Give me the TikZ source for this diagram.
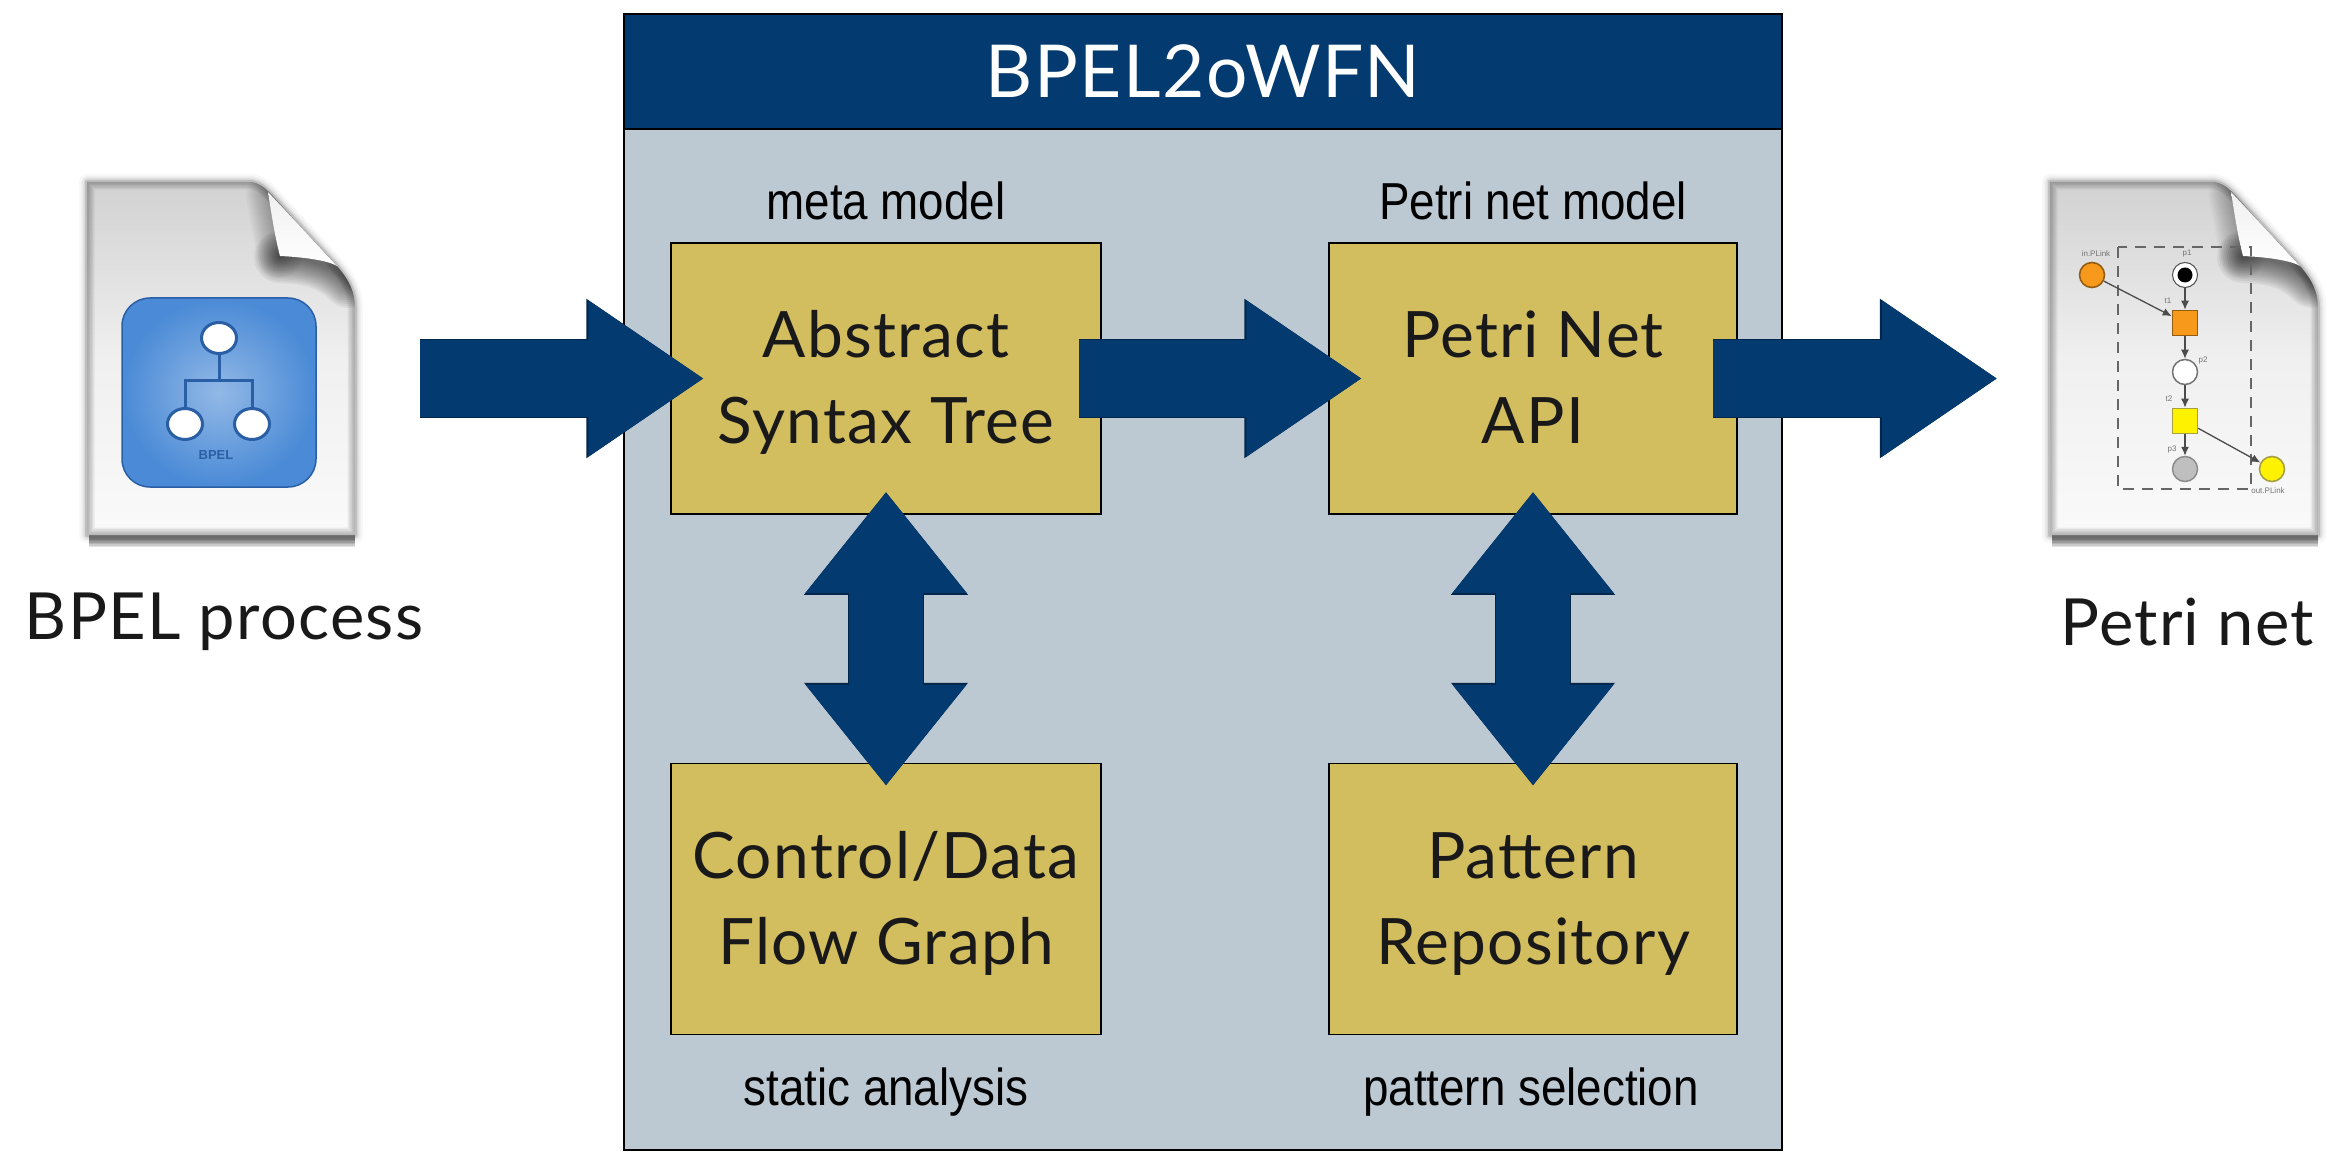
\documentclass[tikz,border=0pt]{standalone}
\usepackage{fontspec}
\usetikzlibrary{arrows.meta,calc,positioning,shapes.geometric}
\setmainfont[LetterSpace=2]{Lato}
\newfontfamily\lblfont[FakeStretch=0.88]{Liberation Sans}
\newfontfamily\tinyfont{Liberation Sans}
\definecolor{navy}{HTML}{033A70}
\definecolor{navyedge}{HTML}{02264A}
\definecolor{panel}{HTML}{BCC8D2}
\definecolor{gold}{HTML}{D2BD5F}
\definecolor{iconblue}{HTML}{4A8AD6}
\definecolor{iconline}{HTML}{2A5FA5}
\definecolor{pnorange}{HTML}{F79A1C}
\newcommand{\twolines}[2]{\rule{0pt}{64pt}#1\\#2\rule[-20pt]{0pt}{0pt}}
\newcommand{\pagepath}{(0,0) -- (165,0) .. controls (175,2) and (180,8) .. (186,14) -- (250,84) .. controls (262,98) and (268,110) .. (268,125) -- (268,353) -- (0,353) -- cycle}
\tikzset{
  x=1pt,y=-1pt,
  box/.style={draw=black,line width=1.5pt,fill=gold,minimum height=271pt,inner sep=0pt,
    align=center,font=\fontsize{64}{86}\selectfont,text=black!90},
  lbl/.style={font=\lblfont\fontsize{52}{54}\selectfont,text=black,inner sep=0pt,anchor=base},
  title/.style={font=\fontsize{65}{70}\selectfont,inner sep=0pt,text=black!90},
  blockh/.style={line width=77pt,color=navy,-{Triangle[length=116pt,width=148pt]},
    preaction={draw=navyedge,line width=79pt,-{Triangle[length=118pt,width=151pt]}}},
  blockv/.style={line width=74pt,color=navy,{Triangle[length=101pt,width=154pt]}-{Triangle[length=101pt,width=154pt]},
    preaction={draw=navyedge,line width=76pt,{Triangle[length=103pt,width=157pt]}-{Triangle[length=103pt,width=157pt]}}},
  pn/.style={draw=#1!60!black,line width=1.6pt},
  pnarc/.style={draw=black!70,line width=1.3pt,-{Latex[length=9pt,width=8pt]}},
  tinylbl/.style={font=\tinyfont\fontsize{8}{8}\selectfont,text=black!55,inner sep=0pt},
  docicon/.pic={
    % soft outer shadow
    \foreach \w/\o in {16/0.03,11/0.05,7/0.07,4/0.12}
      \draw[black,line width=\w pt,opacity=\o,line join=round] \pagepath;
    \foreach \w in {3,6,9,12,15,18}
      \draw[black,line width=\w pt,opacity=0.11] (2,356) -- (268,356);
    % page
    \shade[top color=black!18,bottom color=black!2,middle color=black!6] \pagepath;
    \begin{scope}
      \clip \pagepath;
      \foreach \w in {3,6,9,12,15}
        \draw[black,line width=\w pt,opacity=0.06] \pagepath;
      % shadow left of the fold
      \foreach \w in {4,8,...,44}
        \draw[black,line width=\w pt,opacity=0.028,line cap=round] (181,12) .. controls (185,35) and (188,55) .. (193,74);
      % shadow under the fold
      \foreach \w in {4,8,...,52}
        \draw[black,line width=\w pt,opacity=0.05,line cap=round] (193,75) .. controls (215,76) and (240,78) .. (262,100);
    \end{scope}
    % fold
    \shade[top color=black!6,bottom color=white]
      (181,10) -- (250,84) .. controls (240,78) and (215,75) .. (193,74) .. controls (188,55) and (185,35) .. (181,10) -- cycle;
  },
}
\begin{document}
\begin{tikzpicture}
\useasboundingbox (0,0) rectangle (2338,1158);
% panel
\node[draw=black,line width=1.5pt,fill=panel,minimum width=1158pt,minimum height=1136pt,inner sep=0pt] (panel) at (1203,582) {};
\node[draw=black,line width=1.5pt,fill=navy,minimum width=1158pt,minimum height=115pt,inner sep=0pt,text=white,font=\fontsize{73}{75}\selectfont] (head) at (1203,71.5) {\rule{0pt}{70pt}BPEL2oWFN\rule[-17pt]{0pt}{0pt}};
% boxes
\node[box,minimum width=430pt] (ast) at (886,378.5) {\twolines{Abstract}{Syntax Tree}};
\node[box,minimum width=408pt] (pnapi) at (1533,378.5) {\twolines{Petri Net}{API}};
\node[box,minimum width=430pt] (cfg) at (886,899) {\twolines{Control/Data}{Flow Graph}};
\node[box,minimum width=408pt] (repo) at (1533,899) {\twolines{Pattern}{Repository}};
\node[lbl] (l1) at (886,220) {meta model};
\node[lbl] (l2) at (1533,220) {Petri net model};
\node[lbl] (l3) at (886,1105) {static analysis};
\node[lbl] (l4) at (1531,1105) {pattern selection};
% icons
\pic at (87,182) {docicon};
\pic at (2050,182) {docicon};
\node[minimum width=268pt,minimum height=353pt,inner sep=0pt] (bpelfile) at (221,358.5) {};
\node[minimum width=268pt,minimum height=353pt,inner sep=0pt] (pnfile) at (2184,358.5) {};
\node[title] (t1) at (224,622) {BPEL process};
\node[title] (t2) at (2187,622) {Petri net};
% BPEL icon
\shade[inner color=iconblue!60!white,outer color=iconblue,draw=iconline,line width=1.5pt,rounded corners=28pt] (122,298) rectangle (316,487);
\coordinate (bus) at (219,380);
\node[draw=iconline,line width=3pt,fill=white,ellipse,minimum width=35pt,minimum height=31pt,inner sep=0pt] (tr) at (219,338) {};
\node[draw=iconline,line width=3pt,fill=white,ellipse,minimum width=35pt,minimum height=31pt,inner sep=0pt] (tl) at (185,424) {};
\node[draw=iconline,line width=3pt,fill=white,ellipse,minimum width=35pt,minimum height=31pt,inner sep=0pt] (tm) at (252,424) {};
\draw[iconline,line width=3pt] (tr) -- (bus);
\draw[iconline,line width=3pt] (tl) |- (bus);
\draw[iconline,line width=3pt] (tm) |- (bus);
\node[font=\tinyfont\bfseries\fontsize{13}{13}\selectfont,text=iconline,inner sep=0pt] (bt) at (216,455) {BPEL};
% petri icon
\draw[black!60,dash pattern=on 11pt off 8pt,line width=1.5pt] (2118,247) rectangle (2251,489);
\node[circle,pn=pnorange,fill=pnorange,minimum size=25pt,inner sep=0pt] (ip) at (2092,275) {};
\node[circle,draw=black!70,line width=1pt,fill=white,minimum size=25pt,inner sep=0pt] (p1) at (2185,275) {};
\fill[black] (p1) circle (7.5pt);
\node[rectangle,pn=pnorange,fill=pnorange,minimum size=25pt,inner sep=0pt] (t1a) at (2185,323) {};
\node[circle,draw=black!55,line width=1.5pt,fill=white,minimum size=25pt,inner sep=0pt] (p2) at (2185,372) {};
\node[rectangle,pn=yellow,fill=yellow,minimum size=25pt,inner sep=0pt] (t2a) at (2185,421) {};
\node[circle,draw=black!45,line width=1.5pt,fill=black!25,minimum size=25pt,inner sep=0pt] (p3) at (2185,469) {};
\node[circle,pn=yellow,fill=yellow,minimum size=25pt,inner sep=0pt] (op) at (2272,469) {};
\draw[pnarc] (p1) -- (t1a);
\draw[pnarc] (ip) -- (t1a);
\draw[pnarc] (t1a) -- (p2);
\draw[pnarc] (p2) -- (t2a);
\draw[pnarc] (t2a) -- (p3);
\draw[pnarc] (t2a) -- (op);
\node[tinylbl] at (2096,254) {in.PLink};
\node[tinylbl] at (2187,254) {p1};
\node[tinylbl] at (2168,301) {t1};
\node[tinylbl] at (2203,361) {p2};
\node[tinylbl] at (2169,399) {t2};
\node[tinylbl] at (2172,450) {p3};
\node[tinylbl] at (2268,491) {out.PLink};
% block arrows
\draw[blockh,shorten <=65pt,shorten >=-34pt] (bpelfile.east |- ast.west) -- (ast.west);
\draw[blockh,shorten <=-23pt,shorten >=-34pt] (ast.east) -- (pnapi.west);
\draw[blockh,shorten <=-25pt,shorten >=52pt] (pnapi.east) -- (pnfile.west |- pnapi.east);
\draw[blockv,shorten <=-23pt,shorten >=-23pt] (ast.south) -- (cfg.north);
\draw[blockv,shorten <=-23pt,shorten >=-23pt] (pnapi.south) -- (repo.north);
\end{tikzpicture}
\end{document}
